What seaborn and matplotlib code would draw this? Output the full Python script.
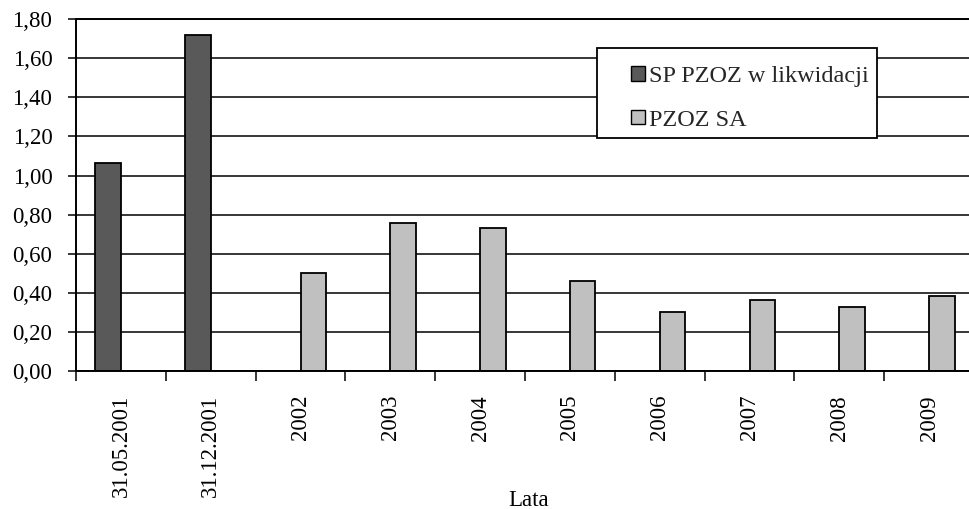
import matplotlib
matplotlib.use("Agg")
import matplotlib.pyplot as plt
from matplotlib.patches import Rectangle
from matplotlib.ticker import FuncFormatter, MultipleLocator, FixedLocator
import pandas as pd
import seaborn as sns

# Okresy sprawozdawcze (oś X)
okresy = ["31.05.2001", "31.12.2001", "2002", "2003", "2004",
          "2005", "2006", "2007", "2008", "2009"]
jednostki = ["SP PZOZ w likwidacji", "PZOZ SA"]

# Wartości wskaźnika dla obu jednostek
okresy_sp = ["31.05.2001", "31.12.2001"]
wartosci_sp = [1.065, 1.717]
okresy_sa = ["2002", "2003", "2004", "2005", "2006", "2007", "2008", "2009"]
wartosci_sa = [0.50, 0.76, 0.732, 0.461, 0.305, 0.365, 0.329, 0.383]

kolory = ["#595959", "#c0c0c0"]

df = pd.concat([
    pd.DataFrame({"okres": okresy_sp, "wartosc": wartosci_sp, "jednostka": jednostki[0]}),
    pd.DataFrame({"okres": okresy_sa, "wartosc": wartosci_sa, "jednostka": jednostki[1]}),
], ignore_index=True)

sns.set_style("ticks")
plt.rcParams["font.family"] = ["Liberation Serif", "DejaVu Serif"]

W, H = 969, 509
fig = plt.figure(figsize=(W / 100, H / 100), dpi=100)
ax = fig.add_axes([76 / W, (H - 371.3) / H, 898 / W, 352.3 / H])

sns.barplot(data=df, x="okres", y="wartosc", hue="jednostka",
            order=okresy, hue_order=jednostki, palette=kolory,
            width=0.57, gap=0, dodge=True, saturation=1,
            edgecolor="black", linewidth=1.3, errorbar=None,
            legend=True, ax=ax)

ax.set_xlim(-0.5, len(okresy) - 0.5)
ax.set_ylim(0, 1.8)

# Oś Y: co 0,20 z przecinkiem dziesiętnym
ax.yaxis.set_major_locator(MultipleLocator(0.2))
ax.yaxis.set_major_formatter(FuncFormatter(lambda v, _: f"{v:.2f}".replace(".", ",")))
ax.tick_params(axis="y", which="major", length=6, width=1.1, color="black",
               pad=11, labelsize=16.5, labelcolor="black", direction="out")
ax.grid(axis="y", color="black", linewidth=1.1)
ax.set_axisbelow(True)

# Oś X: etykiety w środku kategorii, kreski na granicach
ax.xaxis.set_minor_locator(FixedLocator([i - 0.5 for i in range(len(okresy) + 1)]))
ax.tick_params(axis="x", which="major", length=0, pad=17, labelsize=16.5,
               labelrotation=90, labelcolor="black")
ax.tick_params(axis="x", which="minor", length=7, width=1.1, color="black",
               direction="out")

ax.set_ylabel("")
ax.set_xlabel("Lata", fontsize=16.5, color="black")
ax.xaxis.label.set_va("center")
ax.xaxis.set_label_coords((529 - 76) / 898, (371.3 - 500) / 352.3)

for side in ["left", "bottom", "top"]:
    ax.spines[side].set_color("black")
    ax.spines[side].set_linewidth(1.4)
ax.spines["right"].set_visible(False)

# Legenda w ramce
handles, labels = ax.get_legend_handles_labels()
ax.get_legend().remove()
ax.add_patch(Rectangle((597 / W, 1 - 138 / H), 280 / W, 90 / H,
                       transform=fig.transFigure, facecolor="white",
                       edgecolor="black", linewidth=1.3, zorder=4, clip_on=False))
leg = ax.legend(handles, labels, loc="upper left",
                bbox_to_anchor=(619 / W, 1 - 54 / H),
                bbox_transform=fig.transFigure, frameon=False, borderpad=0,
                fontsize=17.5, handlelength=0.55, handleheight=0.55,
                handletextpad=0.2, labelspacing=0.92)
leg.set_zorder(5)
for h in leg.legend_handles:
    h.set_edgecolor("black")
    h.set_linewidth(1.0)

fig.savefig("out.png", dpi=100)
